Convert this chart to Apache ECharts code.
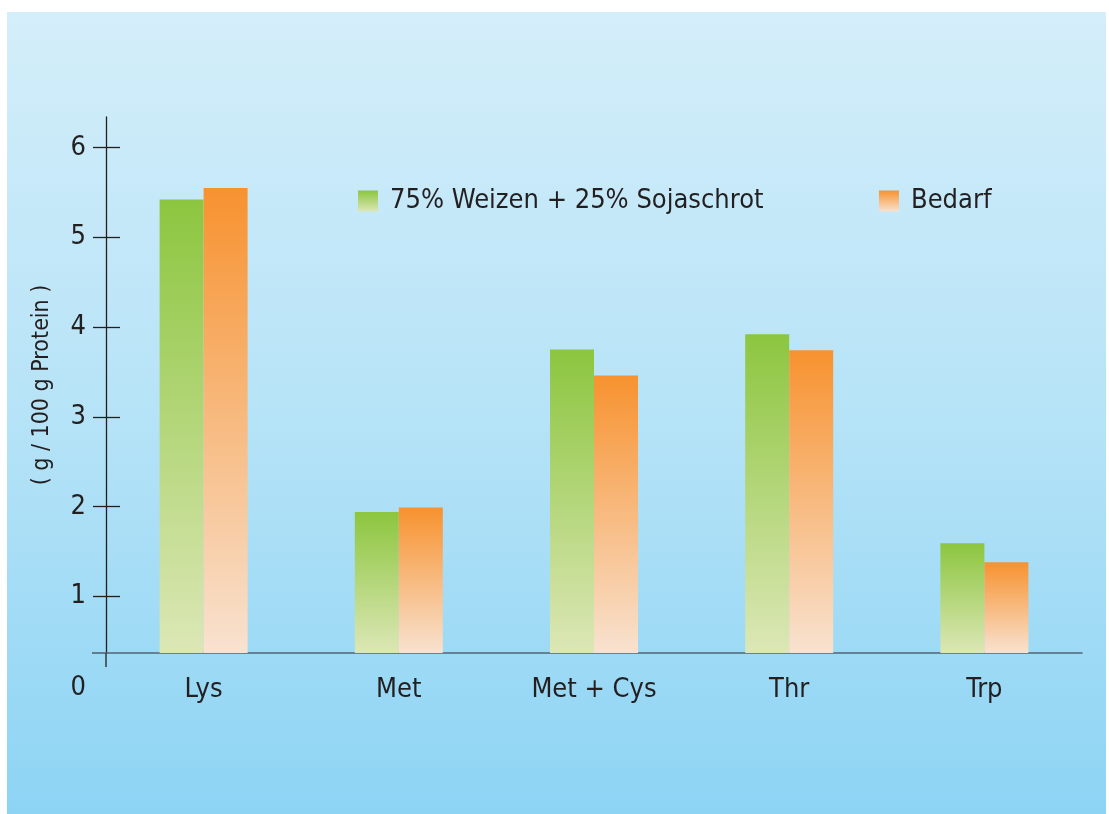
<!DOCTYPE html>
<html>
<head>
<meta charset="utf-8">
<script src="https://cdn.jsdelivr.net/npm/echarts@6/dist/echarts.min.js"></script>
<style>
html,body{margin:0;padding:0;background:#fff;}
#c{width:1109px;height:814px;}
</style>
</head>
<body>
<div id="c"></div>
<script>
const categories = ['Lys', 'Met', 'Met + Cys', 'Thr', 'Trp'];
const weizen = [5.42, 1.94, 3.75, 3.92, 1.59];
const bedarf = [5.55, 1.99, 3.46, 3.74, 1.38];
const yTicks = [1, 2, 3, 4, 5, 6];
const seriesNames = ['75% Weizen + 25% Sojaschrot', 'Bedarf'];
const yName = '( g / 100 g Protein )';
const axisMin = 0.368;
const axisMax = 6.34;

const FONT = '"Liberation Sans Narrow", "DejaVu Sans Condensed", sans-serif';
const FS = 27;
const TXT = '#231f20';

const grad = (top, bottom) => new echarts.graphic.LinearGradient(0, 0, 0, 1, [
  { offset: 0, color: top }, { offset: 1, color: bottom }
]);

const chart = echarts.init(document.getElementById('c'), null, { renderer: 'canvas' });

const yCommon = {
  type: 'value', min: axisMin, max: axisMax, position: 'left',
  splitLine: { show: false }
};

const legendText = { fontFamily: FONT, fontSize: FS, color: TXT, padding: [0, 0, 0, 7], lineHeight: 30 };

const option = {
  backgroundColor: '#ffffff',
  animation: false,
  grid: { left: 106, right: 27, top: 117, bottom: 161 },
  legend: [
    {
      data: [seriesNames[0]], left: 353, top: 181, itemWidth: 20, itemHeight: 21,
      icon: 'rect', itemStyle: { borderWidth: 0 }, textStyle: legendText
    },
    {
      data: [seriesNames[1]], left: 874, top: 181, itemWidth: 20, itemHeight: 21,
      icon: 'rect', itemStyle: { borderWidth: 0 }, textStyle: legendText
    }
  ],
  xAxis: {
    type: 'category', data: categories,
    axisLine: { show: true, lineStyle: { color: '#4f6675', width: 1.6 } },
    axisTick: { show: false },
    axisLabel: { fontFamily: FONT, fontSize: FS, color: TXT, margin: 22, lineHeight: 30 }
  },
  yAxis: [
    Object.assign({}, yCommon, {
      name: yName, nameLocation: 'middle', nameGap: 52, nameRotate: 90,
      nameTextStyle: { fontFamily: FONT, fontSize: 23, color: TXT },
      axisLine: { show: true, lineStyle: { color: TXT, width: 1.3 } },
      axisTick: { show: true, length: 13, lineStyle: { color: TXT, width: 1.3 }, customValues: yTicks },
      axisLabel: { fontFamily: FONT, fontSize: FS, color: TXT, margin: 20, customValues: yTicks }
    }),
    Object.assign({}, yCommon, {
      axisLine: { show: false },
      axisTick: { show: true, inside: true, length: 14, lineStyle: { color: TXT, width: 1.3 }, customValues: yTicks },
      axisLabel: { show: false }
    })
  ],
  series: [
    {
      name: seriesNames[0], type: 'bar', data: weizen, barWidth: 44, barGap: '0%',
      itemStyle: { color: grad('#8cc63f', '#dce7b6') }
    },
    {
      name: seriesNames[1], type: 'bar', data: bedarf, barWidth: 44, barGap: '0%',
      itemStyle: { color: grad('#f7922f', '#f8e2d0') }
    }
  ]
};

chart.setOption(option);

// Decorations derived from the library's scales
const yBase = chart.convertToPixel({ yAxisIndex: 0 }, axisMin);
const yZero = chart.convertToPixel({ yAxisIndex: 0 }, 0);
const gridRect = chart.getModel().getComponent('grid', 0).coordinateSystem.getRect();

chart.setOption({
  graphic: [
    {
      type: 'rect', z: -10, silent: true,
      shape: { x: 7, y: 12, width: 1099, height: 802 },
      style: { fill: new echarts.graphic.LinearGradient(0, 0, 0, 1, [
        { offset: 0, color: '#d4eefa' }, { offset: 0.5, color: '#b6e3f7' }, { offset: 1, color: '#8dd4f4' }
      ]) }
    },
    {
      type: 'line', silent: true, z: 5,
      shape: { x1: gridRect.x, y1: yBase, x2: gridRect.x, y2: yBase + 14 },
      style: { stroke: TXT, lineWidth: 1.3 }
    },
    {
      type: 'line', silent: true, z: 5,
      shape: { x1: gridRect.x - 14, y1: yBase, x2: gridRect.x, y2: yBase },
      style: { stroke: '#4f6675', lineWidth: 1.6 }
    },
    {
      type: 'text', silent: true, z: 5,
      x: gridRect.x - 20, y: yZero + 2,
      style: { text: '0', font: FS + 'px ' + FONT, fill: TXT, align: 'right', verticalAlign: 'middle' }
    }
  ]
});
</script>
</body>
</html>
